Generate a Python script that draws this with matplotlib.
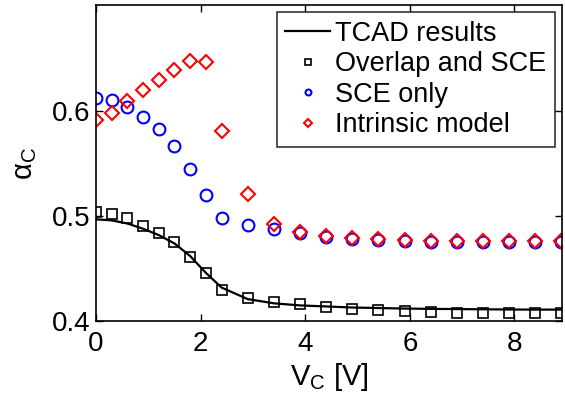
import numpy as np
import matplotlib
matplotlib.use("Agg")
import matplotlib.pyplot as plt

plt.rcParams["font.family"] = ["Liberation Sans", "DejaVu Sans"]
plt.rcParams["mathtext.fontset"] = "custom"
plt.rcParams["mathtext.rm"] = "Liberation Sans"
plt.rcParams["mathtext.it"] = "Liberation Sans:italic"

# bias points (V)
vc = [0, 0.3, 0.6, 0.9, 1.2, 1.5, 1.8, 2.1, 2.4, 2.9, 3.4, 3.9, 4.4,
      4.9, 5.4, 5.9, 6.4, 6.9, 7.4, 7.9, 8.4, 8.9]

tcad = [0.497, 0.496, 0.493, 0.488, 0.482, 0.474, 0.462, 0.446, 0.432,
        0.421, 0.417, 0.415, 0.414, 0.413, 0.4125, 0.412, 0.4117, 0.4115,
        0.4113, 0.4111, 0.411, 0.411]
overlap_sce = [0.504, 0.502, 0.498, 0.491, 0.484, 0.475, 0.461, 0.446, 0.430,
               0.422, 0.418, 0.416, 0.4137, 0.412, 0.4105, 0.4095, 0.409,
               0.408, 0.4076, 0.4076, 0.4076, 0.4076]
sce_only = [0.6127, 0.6105, 0.604, 0.5946, 0.583, 0.567, 0.5445, 0.520, 0.498,
            0.492, 0.488, 0.4835, 0.480, 0.478, 0.477, 0.4765, 0.4755, 0.4755,
            0.4755, 0.4755, 0.4755, 0.4755]
intrinsic = [0.592, 0.598, 0.610, 0.620, 0.630, 0.6397, 0.648, 0.647, 0.581,
             0.5207, 0.4924, 0.4845, 0.481, 0.479, 0.478, 0.477, 0.4765,
             0.4765, 0.4765, 0.4765, 0.4765, 0.4765]

fig = plt.figure(figsize=(5.65, 3.96), dpi=100)
ax = fig.add_axes([0.170, 0.189, 0.8247, 0.798])

ax.plot(vc, tcad, "k-", lw=1.6, label="TCAD results")
ax.plot(vc, overlap_sce, "ks", mfc="none", ms=7.5, mew=1.2, ls="none",
        label="Overlap and SCE")
ax.plot(vc, sce_only, "o", color="blue", mfc="none", ms=8.5, mew=1.5,
        ls="none", label="SCE only")
ax.plot(vc, intrinsic, "D", color="red", mfc="none", ms=7.5, mew=1.5,
        ls="none", label="Intrinsic model")

ax.set_xlim(0, 8.91)
ax.set_ylim(0.4, 0.701)
ax.set_xticks([0, 2, 4, 6, 8])
ax.set_yticks([0.4, 0.5, 0.6])
ax.set_yticklabels(["0.4", "0.5", "0.6"])
ax.tick_params(direction="in", top=True, right=True, labelsize=20,
               length=5, width=1)
ax.tick_params(axis="x", pad=7)
ax.tick_params(axis="y", pad=4)
for s in ax.spines.values():
    s.set_linewidth(1.2)

ax.set_xlabel(r"$\mathregular{V_C}$ [V]", fontsize=21, labelpad=3)
ax.set_ylabel(r"$\mathregular{\alpha_C}$", fontsize=21, labelpad=9)

leg = ax.legend(loc="upper right", fontsize=19.5, markerscale=0.5,
                frameon=True, fancybox=False, edgecolor="black",
                borderpad=0.3, labelspacing=0.17, handlelength=1.65,
                handletextpad=0.2, borderaxespad=0.27)
leg.get_frame().set_linewidth(1.2)

fig.savefig("out.png", dpi=100)
